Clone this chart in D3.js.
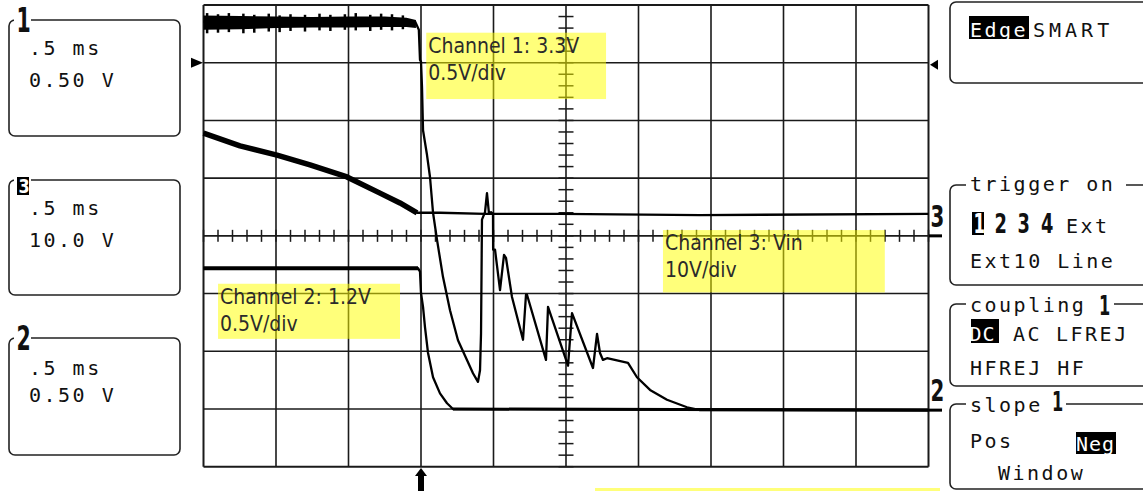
<!DOCTYPE html>
<html><head><meta charset="utf-8">
<script src="https://cdn.jsdelivr.net/npm/d3@7"></script>
<style>
body{margin:0;background:#fff}
svg{display:block}
.mono{font-family:"DejaVu Sans Mono",monospace;font-size:20px;letter-spacing:2.5px;fill:#111}
.big{font-family:"DejaVu Sans",sans-serif;font-weight:bold;fill:#111}
.note{font-family:"DejaVu Sans Condensed","DejaVu Sans",sans-serif;font-stretch:condensed;font-size:21px;fill:#2b2b2b}
</style>
</head><body>
<svg id="c" width="1143" height="491"></svg>
<script>
// ---- Data (time in divisions 0..10, level in divisions -4..4) ----
const ch1Time  = [0, 2.92, 2.945, 2.97, 2.986, 3.0, 3.014, 3.028, 3.083, 3.124, 3.166, 3.221, 3.303, 3.40, 3.51, 3.634, 3.717, 3.786, 3.814, 3.828, 3.841, 3.883, 3.91, 3.938, 3.966, 3.993, 3.995, 4.021, 4.09, 4.145, 4.172, 4.255, 4.407, 4.448, 4.462, 4.724, 4.752, 5.028, 5.083, 5.372, 5.428, 5.469, 5.51, 5.566, 5.855, 5.979, 6.159, 6.393, 6.669, 6.848, 10];
const ch1Level = [3.71, 3.71, 3.64, 3.57, 3.05, 3.02, 2.57, 1.83, 1.40, 1.02, 0.40, -0.07, -0.71, -1.29, -1.81, -2.15, -2.38, -2.53, -2.33, -1.69, 0.28, 0.41, 0.74, 0.38, 0.41, 0.38, -0.24, -0.24, -0.94, -0.33, -0.38, -1.06, -1.80, -1.02, -1.02, -2.15, -1.23, -2.25, -1.34, -2.29, -1.70, -2.03, -2.15, -2.12, -2.20, -2.45, -2.67, -2.84, -2.97, -3.02, -3.02];
// noise envelope of channel 1 before the trigger
const ch1BandTime   = [0, 0.5, 1.0, 1.5, 2.0, 2.5, 2.8, 2.93];
const ch1BandTop    = [3.82, 3.81, 3.80, 3.79, 3.80, 3.80, 3.78, 3.74];
const ch1BandBottom = [3.57, 3.58, 3.60, 3.61, 3.61, 3.62, 3.62, 3.60];
// individual noise spikes of channel 1 (time, low, high)
const ch1SpikeTime = [0.05, 0.2, 0.35, 0.55, 0.7, 0.9, 1.05, 1.2, 1.4, 1.6, 1.75, 1.95, 2.1, 2.3, 2.45, 2.6, 2.75];
const ch1SpikeLow  = [3.51, 3.52, 3.53, 3.51, 3.52, 3.54, 3.53, 3.55, 3.54, 3.56, 3.55, 3.57, 3.56, 3.55, 3.57, 3.56, 3.58];
const ch1SpikeHigh = [3.86, 3.84, 3.86, 3.85, 3.83, 3.85, 3.82, 3.84, 3.83, 3.85, 3.83, 3.84, 3.86, 3.83, 3.85, 3.84, 3.82];

const ch2Time  = [0, 2.959, 2.986, 3.0, 3.028, 3.055, 3.097, 3.166, 3.262, 3.359, 3.441, 10];
const ch2Level = [-0.56, -0.56, -0.62, -0.99, -1.23, -1.58, -2.03, -2.45, -2.73, -2.90, -3.00, -3.02];

const ch3Time  = [0, 0.503, 1.014, 1.469, 1.979, 2.434, 2.71, 2.945, 3.262, 3.883, 4.917, 6.848, 10];
const ch3Level = [1.78, 1.56, 1.40, 1.23, 1.02, 0.74, 0.57, 0.40, 0.40, 0.38, 0.38, 0.36, 0.38];

const triggerTime = 3;      // trigger position (div)
const triggerLevel = 3.0;   // trigger level marker (div)
const ch3Ground = 0;
const ch2Ground = -3.02;

const leftPanels = [
  {label:"1", time:".5 ms", volt:"0.50 V"},
  {label:"3", time:".5 ms", volt:"10.0 V"},
  {label:"2", time:".5 ms", volt:"0.50 V"}
];
const notes = [
  {lines:["Channel 1: 3.3V","0.5V/div"], t:3.1, v:3.52, w:2.48, h:1.15},
  {lines:["Channel 3: Vin","10V/div"], t:6.365, v:0.1, w:3.06, h:1.08},
  {lines:["Channel 2: 1.2V","0.5V/div"], t:0.228, v:-0.83, w:2.51, h:0.955}
];

// ---- Scales ----
const svg = d3.select("#c");
const x = d3.scaleLinear().domain([0,10]).range([203.5,928.5]);
const y = d3.scaleLinear().domain([-4,4]).range([466.7,5]);

// ---- Grid ----
const g = svg.append("g");
g.selectAll("line.v").data(d3.range(0,11)).join("line")
  .attr("x1",d=>x(d)).attr("x2",d=>x(d)).attr("y1",y(4)).attr("y2",y(-4))
  .attr("stroke","#1a1a1a").attr("stroke-width",d=>(d===0||d===10)?2:1.6);
g.selectAll("line.h").data(d3.range(-4,5)).join("line")
  .attr("y1",d=>y(d)).attr("y2",d=>y(d)).attr("x1",x(0)).attr("x2",x(10))
  .attr("stroke","#1a1a1a").attr("stroke-width",d=>(d===-4||d===4)?2:1.6);
g.selectAll("line.mx").data(d3.range(0,50.5,1).map(i=>i/5)).join("line")
  .attr("x1",d=>x(d)).attr("x2",d=>x(d)).attr("y1",y(0)-6).attr("y2",y(0)+6)
  .attr("stroke","#1a1a1a").attr("stroke-width",1.5);
g.selectAll("line.my").data(d3.range(-20,20.5,1).map(i=>i/5)).join("line")
  .attr("y1",d=>y(d)).attr("y2",d=>y(d)).attr("x1",x(5)-7.5).attr("x2",x(5)+7.5)
  .attr("stroke","#1a1a1a").attr("stroke-width",1.5);

// ---- Traces ----
const line = d3.line().x(d=>x(d[0])).y(d=>y(d[1]));
const zip = (a,b)=>a.map((v,i)=>[v,b[i]]);
const ch1 = zip(ch1Time,ch1Level), ch2 = zip(ch2Time,ch2Level), ch3 = zip(ch3Time,ch3Level);

const band = d3.area().x(d=>x(d.t)).y0(d=>y(d.b)).y1(d=>y(d.top));
svg.append("path").datum(ch1BandTime.map((t,i)=>({t,top:ch1BandTop[i],b:ch1BandBottom[i]})))
  .attr("d",band).attr("fill","#000");
svg.selectAll("line.sp").data(ch1SpikeTime.map((t,i)=>[t,ch1SpikeLow[i],ch1SpikeHigh[i]])).join("line")
  .attr("x1",d=>x(d[0])).attr("x2",d=>x(d[0])).attr("y1",d=>y(d[1])).attr("y2",d=>y(d[2]))
  .attr("stroke","#000").attr("stroke-width",2.5);

svg.append("path").datum(ch3.filter(d=>d[0]<=triggerTime-0.05)).attr("d",line)
  .attr("fill","none").attr("stroke","#000").attr("stroke-width",5.5).attr("stroke-linejoin","round");
svg.append("path").datum(ch2.filter(d=>d[0]<=triggerTime-0.04)).attr("d",line)
  .attr("fill","none").attr("stroke","#000").attr("stroke-width",4);

[ch1,ch2,ch3].forEach(s=>{
  svg.append("path").datum(s).attr("d",line).attr("fill","none")
    .attr("stroke","#000").attr("stroke-width",2.3).attr("stroke-linejoin","round");
});
svg.append("path").datum(ch2.filter(d=>d[0]>=3.44)).attr("d",line)
  .attr("fill","none").attr("stroke","#000").attr("stroke-width",3);

// ---- Annotation boxes ----
notes.forEach(n=>{
  const gx = x(n.t), gy = y(n.v);
  const w = x(n.w)-x(0), h = y(0)-y(n.h);
  svg.append("rect").attr("x",gx-2).attr("y",gy).attr("width",w).attr("height",h)
    .attr("fill","#ffff00").attr("opacity",0.52);
  n.lines.forEach((s,i)=>svg.append("text").attr("class","note")
    .attr("x",gx).attr("y",gy+20+i*27).text(s));
});
svg.append("rect").attr("x",595).attr("y",488).attr("width",345).attr("height",4)
  .attr("fill","#ffff00").attr("opacity",0.52);

// ---- helpers ----
function bigText(s,x0,y0,size,sx,fill){
  return svg.append("text").attr("class","big").attr("font-size",size)
    .attr("transform",`translate(${x0},${y0}) scale(${sx},1)`).style("fill",fill||"#111").text(s);
}
function inv(x0,y0,w,h){ svg.append("rect").attr("x",x0).attr("y",y0).attr("width",w).attr("height",h).attr("fill","#000"); }
function txt(s,x0,y0,fill,ls){ const t=svg.append("text").attr("class","mono").attr("x",x0).attr("y",y0).text(s);
  if(fill) t.style("fill",fill); if(ls!==undefined) t.style("letter-spacing",ls+"px"); return t; }

// ---- Markers ----
svg.append("path").attr("d",`M191,${y(triggerLevel)-5}L203,${y(triggerLevel)}L191,${y(triggerLevel)+5}Z`).attr("fill","#000");
svg.append("path").attr("d",`M938,${y(triggerLevel)-3}L930,${y(triggerLevel)+2}L938,${y(triggerLevel)+7}Z`).attr("fill","#000");
const tx = x(triggerTime);
svg.append("path").attr("d",`M${tx},468L${tx+6},476L${tx+3},476L${tx+3},491L${tx-3},491L${tx-3},476L${tx-6},476Z`).attr("fill","#000");
[[ch3Ground,"3"],[ch2Ground,"2"]].forEach(([v,l])=>{
  svg.append("rect").attr("x",929).attr("y",y(v)-1.5).attr("width",13).attr("height",3).attr("fill","#000");
  bigText(l,930.5,y(v)-9,30,0.66);
});

// ---- Left panels ----
const panelTop = [20,180,338], panelH = [116,115,117];
leftPanels.forEach((p,i)=>{
  const top = panelTop[i];
  svg.append("rect").attr("x",9).attr("y",top).attr("width",171).attr("height",panelH[i])
    .attr("rx",6).attr("fill","none").attr("stroke","#222").attr("stroke-width",1.6);
  svg.append("rect").attr("x",14).attr("y",top-12).attr("width",17).attr("height",20).attr("fill","#fff");
  if (p.label==="3") {
    inv(17,top-3,12,18);
    bigText(p.label,18.5,top+13,20,0.8,"#fff");
  } else {
    bigText(p.label,16.5,top+12,33,0.62);
  }
  const b1 = [55,215,375][i], b2 = [87,247,402][i];
  txt(p.time,29,b1);
  txt(p.volt,29,b2);
});

// ---- Right panels ----
function box(top,bottom){
  svg.append("rect").attr("x",950).attr("y",top).attr("width",260).attr("height",bottom-top)
    .attr("rx",6).attr("fill","none").attr("stroke","#222").attr("stroke-width",1.6);
}
function title(s,x0,y0,w){ svg.append("rect").attr("x",x0-4).attr("y",y0-14).attr("width",w+8).attr("height",16).attr("fill","#fff"); txt(s,x0,y0); }

box(2,83);
inv(969,16,60,23); txt("Edge",970,37,"#fff",2.5); txt("SMART",1033,37,null,4);

box(185,285);
title("trigger on",970,191,152);
inv(972,212,12,23); bigText("1",973.5,233,27,0.62,"#fff");
bigText("2",994.5,233,27,0.66);
bigText("3",1017.5,233,27,0.66);
bigText("4",1041,233,27,0.66);
txt("Ext",1066,233);
txt("Ext10 Line",970,268);

box(304,386);
title("coupling",970,312,140);
bigText("1",1099,315,26,0.62);
inv(971,319,28,24); txt("DC",969.5,341,"#fff",1);
txt("AC",1013,341); txt("LFREJ",1056,341);
txt("HFREJ HF",970,375);

box(404,489);
title("slope",970,412,92);
bigText("1",1052,411,26,0.62);
txt("Pos",970,448);
inv(1076,432,40,22); txt("Neg",1076,451,"#fff",1);
txt("Window",998,480);
</script>
</body></html>
